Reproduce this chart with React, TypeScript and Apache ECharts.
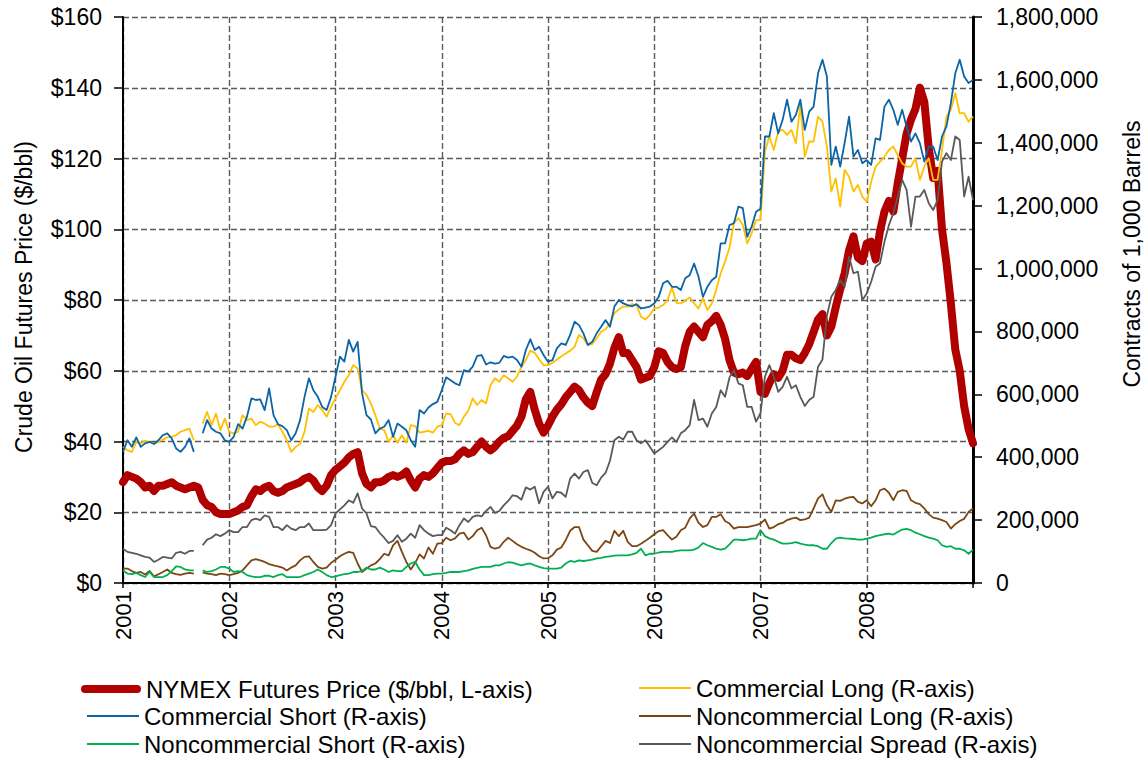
import React, { useEffect, useRef } from 'react';
import * as echarts from 'echarts';

// Tick labels / axis setup
const yearTicks = ['2001', '2002', '2003', '2004', '2005', '2006', '2007', '2008'];
const pointsPerYear = 24; // semi-monthly samples

// NYMEX futures price, $/bbl (left axis)
const priceData = [
  28.5, 30.5, 30.0, 29.5, 28.5, 27.0, 27.5, 26.0, 27.5, 27.5, 28.0, 28.5, 27.5, 27.0, 26.5, 27.0, 27.5, 27.0, 23.5, 22.0, 21.5, 20.0, 19.5, 19.5,
  19.5, 20.0, 20.5, 21.5, 22.0, 24.5, 26.5, 26.0, 27.0, 27.5, 26.0, 25.5, 26.0, 27.0, 27.5, 28.0, 28.5, 29.5, 30.0, 29.0, 27.0, 26.0, 27.5, 30.5,
  32.0, 33.0, 34.0, 35.5, 36.5, 37.0, 31.0, 28.0, 27.0, 28.5, 28.5, 29.0, 30.0, 30.5, 30.0, 30.5, 31.5, 29.0, 27.0, 29.5, 30.5, 30.0, 31.0, 32.5,
  34.0, 34.5, 34.5, 35.0, 36.5, 37.5, 36.5, 37.0, 38.5, 40.0, 38.5, 37.5, 38.5, 40.0, 41.0, 41.5, 43.0, 44.5, 47.0, 52.0, 54.0, 49.0, 45.0, 42.5,
  44.5, 47.0, 49.0, 50.5, 52.5, 54.0, 55.5, 54.5, 52.5, 51.0, 50.0, 54.0, 57.5, 59.0, 62.0, 66.5, 69.5, 65.0, 65.0, 63.0, 61.0, 57.5, 58.0, 58.5,
  61.0, 65.5, 65.0, 62.5, 61.0, 60.5, 61.0, 67.0, 71.0, 72.5, 71.0, 69.5, 73.0, 74.0, 75.5, 73.0, 69.0, 63.0, 59.5, 59.0, 59.5, 58.5, 60.5, 62.5,
  54.0, 53.5, 56.5, 59.0, 58.0, 60.0, 64.5, 64.5, 63.5, 63.0, 65.0, 67.5, 71.0, 74.5, 76.0, 70.0, 72.5, 78.0, 83.0, 87.5, 94.0, 98.0, 92.0, 91.0,
  96.0, 96.5, 91.5, 99.5, 105.0, 108.0, 105.0, 113.0, 120.0, 127.0, 131.0, 134.0, 140.0, 136.0, 123.0, 114.5, 116.5, 100.0, 90.5, 79.0, 66.0, 60.0, 50.0, 43.5,
  39.5,
];

// Positions in thousands of contracts (right axis)
const commercialLongK = [
  433, 422, 417, 449, 444, 452, 449, 444, 449, 456, 463, 465, 470, 481, 486, 491, 454, null, 507, 544, 502, 539, 486, 523,
  481, 476, 481, 534, 518, 523, 502, 513, 507, 497, 497, 505, 481, 454, 417, 433, 442, 481, 555, 544, 566, 550, 529, 560,
  587, 613, 640, 661, 693, 682, 613, 598, 571, 534, 491, 486, 449, 470, 446, 470, 446, 502, 499, 478, 481, 484, 478, 497,
  502, 539, 537, 509, 502, 529, 548, 587, 566, 582, 571, 629, 651, 640, 661, 651, 640, 656, 688, 709, 739, 732, 711, 693,
  693, 700, 711, 720, 730, 739, 751, 789, 778, 757, 760, 778, 799, 807, 824, 858, 870, 879, 879, 887, 884, 847, 838, 852,
  873, 876, 884, 900, 940, 891, 889, 898, 908, 889, 873, 905, 868, 889, 932, 985, 1022, 1067, 1144, 1160, 1139, 1080, 1112, 1154,
  1154, 1372, 1420, 1377, 1436, 1441, 1425, 1441, 1399, 1521, 1356, 1404, 1404, 1483, 1467, 1388, 1245, 1287, 1197, 1314, 1292, 1245, 1266, 1229,
  1213, 1276, 1324, 1340, 1356, 1377, 1388, 1361, 1335, 1324, 1324, 1351, 1282, 1324, 1351, 1282, 1282, 1377, 1483, 1505, 1558, 1494, 1494, 1467,
  1483,
];

const commercialShortK = [
  417, 454, 433, 463, 433, 444, 449, 442, 454, 470, 476, 460, 428, 417, 433, 460, 417, null, 476, 518, 491, 481, 476, 454,
  449, 465, 505, 491, 529, 587, 582, 584, 550, 619, 534, 505, 499, 486, 454, 476, 518, 592, 651, 613, 592, 560, 550, 592,
  656, 720, 704, 773, 736, 767, 603, 534, 520, 476, 491, 497, 518, 465, 507, 497, 486, 454, 433, 550, 539, 558, 569, 576,
  613, 654, 645, 635, 629, 677, 672, 688, 722, 725, 695, 702, 698, 700, 722, 717, 720, 709, 688, 741, 775, 741, 751, 725,
  704, 709, 746, 762, 757, 789, 831, 820, 794, 757, 767, 794, 815, 836, 815, 879, 900, 889, 884, 880, 887, 873, 876, 879,
  889, 910, 953, 961, 942, 942, 932, 969, 979, 1016, 974, 910, 942, 963, 974, 1080, 1080, 1138, 1144, 1197, 1192, 1101, 1133, 1181,
  1190, 1420, 1420, 1494, 1430, 1473, 1537, 1467, 1489, 1537, 1441, 1499, 1515, 1621, 1664, 1611, 1330, 1388, 1324, 1399, 1483, 1356, 1377, 1335,
  1345, 1330, 1414, 1409, 1515, 1537, 1505, 1457, 1505, 1452, 1404, 1430, 1399, 1340, 1388, 1388, 1345, 1420, 1452, 1526, 1621, 1664, 1611, 1590,
  1600,
];

const noncommercialLongK = [
  46, 46, 38, 32, 35, 27, 38, 21, 28, 35, 43, 32, 28, 26, 30, 32, 30, null, 34, 30, 28, 25, 30, 28,
  25, 28, 32, 40, 56, 72, 76, 72, 67, 60, 56, 53, 49, 40, 49, 56, 72, 83, 85, 67, 51, 46, 49, 64,
  74, 85, 93, 99, 96, 62, 35, 46, 56, 62, 76, 93, 88, 120, 134, 99, 67, 43, 64, 91, 78, 113, 93, 125,
  127, 144, 136, 142, 157, 160, 138, 149, 168, 176, 152, 115, 109, 113, 131, 144, 134, 123, 115, 109, 104, 96, 85, 78,
  79, 88, 106, 113, 136, 166, 178, 178, 138, 120, 102, 99, 117, 134, 127, 166, 149, 166, 131, 117, 117, 125, 134, 144,
  155, 165, 168, 152, 138, 147, 168, 176, 205, 221, 191, 178, 184, 210, 210, 219, 197, 189, 173, 178, 178, 178, 181, 184,
  189, 202, 173, 178, 187, 191, 200, 205, 208, 200, 202, 208, 237, 269, 282, 247, 226, 263, 261, 268, 272, 274, 258, 253,
  263, 244, 263, 295, 300, 287, 263, 290, 295, 293, 263, 255, 251, 237, 219, 208, 205, 200, 194, 173, 187, 197, 204, 226,
  237,
];

const noncommercialShortK = [
  40, 30, 28, 32, 25, 19, 35, 19, 19, 19, 25, 38, 53, 51, 43, 40, 40, null, 40, 35, 38, 43, 51, 51,
  46, 35, 38, 35, 25, 21, 19, 19, 23, 23, 19, 25, 28, 19, 19, 19, 19, 25, 30, 35, 43, 35, 25, 19,
  21, 25, 28, 30, 35, 35, 38, 49, 43, 43, 49, 43, 35, 40, 38, 38, 51, 62, 67, 43, 25, 25, 28, 30,
  30, 32, 35, 35, 35, 38, 40, 45, 48, 51, 51, 51, 56, 56, 62, 66, 65, 60, 56, 60, 62, 56, 51, 47,
  46, 46, 46, 49, 62, 70, 67, 72, 70, 72, 74, 78, 80, 83, 85, 87, 88, 88, 88, 91, 96, 109, 88, 93,
  93, 97, 99, 99, 99, 102, 104, 104, 104, 106, 113, 127, 120, 115, 109, 106, 109, 123, 138, 138, 136, 138, 141, 141,
  168, 149, 142, 138, 131, 125, 125, 127, 130, 125, 122, 120, 120, 117, 109, 109, 127, 141, 144, 142, 141, 140, 138, 138,
  141, 144, 149, 152, 155, 157, 154, 162, 170, 172, 168, 160, 155, 149, 144, 141, 136, 120, 115, 117, 109, 109, 104, 93,
  106,
];

const noncommercialSpreadK = [
  109, 99, 96, 93, 88, 83, 81, 67, 74, 83, 81, 78, 96, 99, 93, 102, 102, null, 120, 138, 144, 155, 149, 157,
  168, 162, 162, 178, 178, 200, 205, 200, 215, 210, 178, 178, 168, 184, 173, 168, 178, 178, 189, 168, 168, 168, 170, 184,
  221, 234, 247, 263, 255, 285, 237, 221, 181, 178, 159, 144, 127, 134, 152, 131, 141, 157, 144, 184, 168, 157, 149, 152,
  152, 176, 168, 157, 184, 205, 194, 210, 215, 212, 229, 242, 223, 229, 247, 261, 279, 276, 265, 304, 297, 306, 253, 290,
  306, 269, 290, 287, 274, 332, 348, 332, 353, 359, 318, 311, 335, 350, 389, 454, 465, 456, 481, 481, 454, 444, 454, 433,
  412, 422, 433, 449, 463, 449, 476, 486, 502, 582, 518, 523, 497, 539, 560, 613, 592, 654, 677, 635, 629, 560, 560, 513,
  540, 656, 693, 656, 608, 624, 656, 619, 629, 592, 563, 582, 592, 688, 711, 850, 910, 932, 963, 942, 1038, 985, 990, 900,
  921, 958, 1006, 1017, 1085, 1138, 1176, 1229, 1282, 1250, 1133, 1229, 1229, 1250, 1208, 1186, 1218, 1340, 1367, 1345, 1420, 1409, 1229, 1292,
  1218,
];

const seriesNames = [
  'NYMEX Futures Price ($/bbl, L-axis)',
  'Commercial Long (R-axis)',
  'Commercial Short (R-axis)',
  'Noncommercial Long (R-axis)',
  'Noncommercial Short (R-axis)',
  'Noncommercial Spread (R-axis)',
];
const seriesColors = ['#B00000', '#FFC000', '#0A64A6', '#7A4612', '#00B050', '#595959'];

const FONT = '"Liberation Sans", Arial, Helvetica, sans-serif';
const TICK_FS = 23;
const LEGEND_FS = 24;

export default function App() {
  const ref = useRef<HTMLDivElement>(null);

  useEffect(() => {
    if (!ref.current) return;
    const chart = echarts.init(ref.current, null, { renderer: 'svg' });
    const firstYear = Number(yearTicks[0]);
    const toPairs = (arr: (number | null)[], scale: number) =>
      arr.map((v, i) => [firstYear + i / pointsPerYear, v === null ? '-' : v * scale]);

    const rightSets = [commercialLongK, commercialShortK, noncommercialLongK, noncommercialShortK, noncommercialSpreadK];

    const series: any[] = [
      {
        name: seriesNames[0],
        type: 'line',
        yAxisIndex: 0,
        data: toPairs(priceData, 1),
        symbol: 'none',
        lineStyle: { color: seriesColors[0], width: 8, cap: 'round', join: 'round' },
        itemStyle: { color: seriesColors[0], borderWidth: 0 },
      },
      ...rightSets.map((arr, i) => ({
        name: seriesNames[i + 1],
        type: 'line',
        yAxisIndex: 1,
        data: toPairs(arr, 1000),
        symbol: 'none',
        connectNulls: false,
        lineStyle: { color: seriesColors[i + 1], width: 1.8, join: 'round' },
        itemStyle: { color: seriesColors[i + 1], borderWidth: 0 },
      })),
    ];

    // legend layout: [series index, left, top]
    const legendSlots: [number, number, number][] = [
      [0, 81, 677],
      [1, 639, 676],
      [2, 87, 704],
      [3, 639, 704],
      [4, 87, 732],
      [5, 639, 732],
    ];

    const legends = legendSlots.map(([idx, left, top]) => {
      const thick = idx === 0;
      return {
        orient: 'horizontal',
        left,
        top,
        padding: 0,
        icon: thick ? 'path://M4,0 L56,0 A4,4 0 0 1 56,8 L4,8 A4,4 0 0 1 4,0 Z' : 'rect',
        itemWidth: thick ? 60 : 52,
        itemHeight: thick ? 8 : 2,
        selectedMode: false,
        itemStyle: { borderWidth: 0, color: seriesColors[idx] },
        textStyle: { fontFamily: FONT, fontSize: LEGEND_FS, color: '#000' },
        data: [{ name: seriesNames[idx], itemStyle: { color: seriesColors[idx], borderWidth: 0 } }],
      };
    });

    const dashed = { color: '#5a5a5a', width: 1.4, type: [6, 3] };

    const option: any = {
      animation: false,
      backgroundColor: '#ffffff',
      grid: { left: 123, top: 17, width: 850, height: 566, containLabel: false },
      legend: legends,
      xAxis: {
        type: 'value',
        min: firstYear,
        max: firstYear + yearTicks.length,
        interval: 1,
        axisLine: { show: true, onZero: false, lineStyle: { color: '#000', width: 2 } },
        axisTick: { show: true, length: 5, lineStyle: { color: '#000', width: 1.5 } },
        axisLabel: {
          rotate: 90,
          margin: 8,
          fontFamily: FONT,
          fontSize: 22,
          color: '#000',
          formatter: (v: number) => {
            const s = String(Math.round(v));
            return yearTicks.indexOf(s) >= 0 ? s : '';
          },
        },
        splitLine: { show: true, lineStyle: dashed },
      },
      yAxis: [
        {
          type: 'value',
          min: 0,
          max: 160,
          interval: 20,
          position: 'left',
          axisLine: { show: true, lineStyle: { color: '#000', width: 2 } },
          axisTick: { show: true, length: 9, lineStyle: { color: '#000', width: 1.5 } },
          axisLabel: { margin: 21, fontFamily: FONT, fontSize: TICK_FS, color: '#000', formatter: '${value}' },
          splitLine: { show: true, lineStyle: dashed },
        },
        {
          type: 'value',
          min: 0,
          max: 1800000,
          interval: 200000,
          position: 'right',
          axisLine: { show: true, lineStyle: { color: '#000', width: 3 } },
          axisTick: { show: true, length: 9, lineStyle: { color: '#000', width: 1.5 } },
          axisLabel: { margin: 23, fontFamily: FONT, fontSize: TICK_FS, color: '#000' },
          splitLine: { show: false },
        },
      ],
      graphic: [
        {
          type: 'text',
          x: 24,
          y: 297,
          rotation: Math.PI / 2,
          style: {
            text: 'Crude Oil Futures Price ($/bbl)',
            font: `23px ${FONT}`,
            fill: '#000',
            align: 'center',
            verticalAlign: 'middle',
            textAlign: 'center',
            textVerticalAlign: 'middle',
          },
        },
        {
          type: 'text',
          x: 1132,
          y: 254,
          rotation: Math.PI / 2,
          style: {
            text: 'Contracts of 1,000 Barrels',
            font: `23px ${FONT}`,
            fill: '#000',
            align: 'center',
            verticalAlign: 'middle',
            textAlign: 'center',
            textVerticalAlign: 'middle',
          },
        },
      ],
      series,
    };

    chart.setOption(option);
    return () => chart.dispose();
  }, []);

  return (
    <div
      ref={ref}
      style={{ position: 'absolute', left: 0, top: 0, width: 1148, height: 758, background: '#fff' }}
    />
  );
}
